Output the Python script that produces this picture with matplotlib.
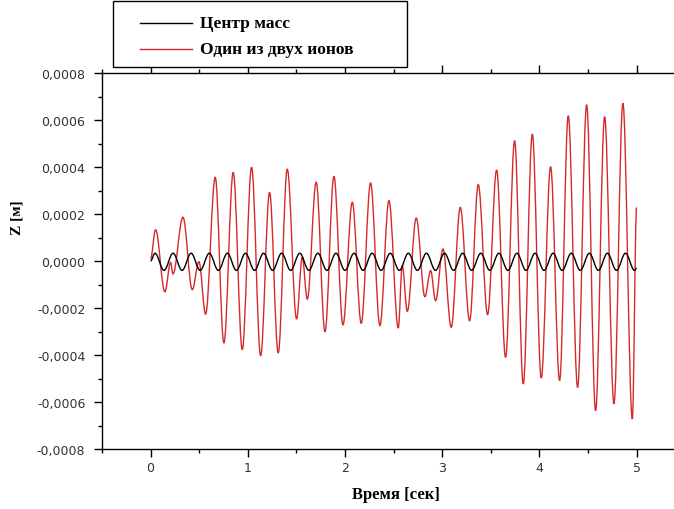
import matplotlib
matplotlib.use('Agg')
import matplotlib.pyplot as plt
from matplotlib.ticker import MultipleLocator, FuncFormatter
from matplotlib.lines import Line2D
from matplotlib.patches import Rectangle, PathPatch
from matplotlib.path import Path

# ---- data (turning points) ----
label_black = 'Центр масс'
label_red = 'Один из двух ионов'

t_red = [0.000, 0.051, 0.147, 0.206, 0.230, 0.333, 0.429, 0.497, 0.566, 0.665,
         0.754, 0.850, 0.943, 1.039, 1.132, 1.224, 1.313, 1.406, 1.502, 1.560,
         1.612, 1.704, 1.794, 1.886, 1.979, 2.075, 2.167, 2.263, 2.359, 2.452,
         2.548, 2.589, 2.641, 2.733, 2.822, 2.881, 2.932, 3.008, 3.093, 3.186,
         3.282, 3.371, 3.467, 3.560, 3.652, 3.745, 3.834, 3.927, 4.019, 4.115,
         4.208, 4.297, 4.393, 4.486, 4.578, 4.671, 4.767, 4.859, 4.956, 5.000]
z_red_e4 = [0.10, 1.33, -1.31, -0.06, -0.55, 1.86, -1.22, -0.03, -2.26, 3.56,
            -3.49, 3.77, -3.77, 3.99, -4.03, 2.92, -3.91, 3.91, -2.47, 0.16,
            -1.62, 3.35, -3.01, 3.60, -2.72, 2.50, -2.65, 3.32, -2.75, 2.57,
            -2.85, -0.20, -2.14, 1.83, -1.52, -0.41, -1.69, 0.51, -2.82, 2.28,
            -2.54, 3.25, -2.28, 3.87, -4.10, 5.12, -5.23, 5.40, -4.98, 4.01,
            -5.09, 6.18, -5.38, 6.65, -6.37, 6.14, -6.08, 6.71, -6.72, 2.28]

t_black = [0.000, 0.045, 0.138, 0.231, 0.324, 0.417, 0.510, 0.604, 0.697, 0.790,
           0.883, 0.976, 1.069, 1.162, 1.255, 1.348, 1.441, 1.535, 1.628, 1.721,
           1.814, 1.907, 2.000, 2.093, 2.186, 2.279, 2.372, 2.466, 2.559, 2.652,
           2.745, 2.838, 2.931, 3.024, 3.117, 3.210, 3.303, 3.397, 3.490, 3.583,
           3.676, 3.769, 3.862, 3.955, 4.048, 4.141, 4.234, 4.328, 4.421, 4.514,
           4.607, 4.700, 4.793, 4.886, 4.979, 5.000]
z_black_e4 = [0.00, 0.33, -0.40, 0.33, -0.40, 0.33, -0.40, 0.33, -0.40, 0.33,
              -0.40, 0.33, -0.40, 0.33, -0.40, 0.33, -0.40, 0.33, -0.40, 0.33,
              -0.40, 0.33, -0.40, 0.33, -0.40, 0.33, -0.40, 0.33, -0.40, 0.33,
              -0.40, 0.33, -0.40, 0.33, -0.40, 0.33, -0.40, 0.33, -0.40, 0.33,
              -0.40, 0.33, -0.40, 0.33, -0.40, 0.33, -0.40, 0.33, -0.40, 0.33,
              -0.40, 0.33, -0.40, 0.33, -0.40, -0.30]

z_red = [v * 1e-4 for v in z_red_e4]
z_black = [v * 1e-4 for v in z_black_e4]


def smooth_path(t, z):
    """Smooth curve through the turning points (flat tangents at each point)."""
    verts = [(t[0], z[0])]
    codes = [Path.MOVETO]
    for i in range(len(t) - 1):
        dt = t[i + 1] - t[i]
        verts += [(t[i] + 0.36 * dt, z[i]), (t[i + 1] - 0.36 * dt, z[i + 1]),
                  (t[i + 1], z[i + 1])]
        codes += [Path.CURVE4] * 3
    return Path(verts, codes)


# ---- figure ----
W, H = 674, 510
fig = plt.figure(figsize=(W / 100, H / 100), dpi=100)
ax = fig.add_axes([102 / W, (H - 450) / H, (W - 102) / W, (450 - 74) / H])

RED = '#d42a2a'
ax.add_patch(PathPatch(smooth_path(t_red, z_red), fill=False, edgecolor=RED,
                       lw=1.0, label=label_red))
ax.add_patch(PathPatch(smooth_path(t_black, z_black), fill=False,
                       edgecolor='black', lw=1.0, label=label_black))

ax.set_xlim(-0.5, -0.5 + (W - 102) / 97.2)
ax.set_ylim(-0.0008, 0.0008)

ax.spines['right'].set_visible(False)
for s in ('left', 'bottom', 'top'):
    ax.spines[s].set_linewidth(1.0)

ax.xaxis.set_major_locator(MultipleLocator(1))
ax.xaxis.set_minor_locator(MultipleLocator(0.5))
ax.yaxis.set_major_locator(MultipleLocator(0.0002))
ax.yaxis.set_minor_locator(MultipleLocator(0.0001))


def yfmt(v, pos):
    s = f"{v:.4f}".replace('.', ',')
    if s == '-0,0000':
        s = '0,0000'
    return s


ax.yaxis.set_major_formatter(FuncFormatter(yfmt))
ax.xaxis.set_major_formatter(FuncFormatter(lambda v, p: f"{v:g}"))

ax.tick_params(which='both', direction='out', top=True, labeltop=False, right=False)
ax.tick_params(which='major', length=6, width=1.0)
ax.tick_params(which='minor', length=3, width=1.0)
ax.tick_params(axis='y', which='major', pad=6)
ax.tick_params(axis='x', which='major', pad=3)
for lab in ax.get_xticklabels() + ax.get_yticklabels():
    lab.set_fontfamily('DejaVu Sans')
    lab.set_fontsize(9)
    lab.set_color('#333333')

ax.set_xlabel('Время [сек]', fontfamily='Liberation Serif', fontweight='bold', fontsize=12)
ax.set_ylabel('Z [м]', fontfamily='Liberation Serif', fontweight='bold', fontsize=11)
ax.xaxis.set_label_coords((396 - 102) / (W - 102), (450 - 487) / (450 - 74))
ax.yaxis.set_label_coords((23 - 102) / (W - 102), (450 - 218) / (450 - 74))

# ---- legend box drawn in figure coordinates ----
fig.patches.append(Rectangle((113 / W, 1 - 68 / H), (407 - 113) / W, 66 / H,
                             transform=fig.transFigure, facecolor='white',
                             edgecolor='black', lw=1.0, zorder=5))
for yy, col, lab in ((24, 'black', label_black), (50, RED, label_red)):
    fig.lines.append(Line2D([140 / W, 192 / W], [1 - yy / H, 1 - yy / H],
                            transform=fig.transFigure, color=col, lw=1.0, zorder=6))
    fig.text(200 / W, 1 - yy / H, lab, fontfamily='Liberation Serif',
             fontweight='bold', fontsize=12.5, va='center', ha='left', zorder=6)

fig.savefig('out.png', dpi=100)
